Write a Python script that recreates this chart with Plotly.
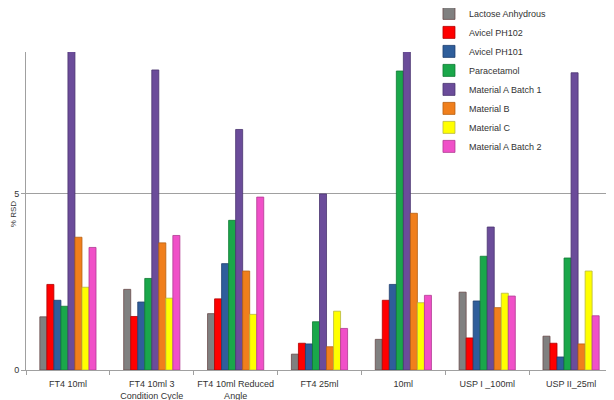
import plotly.graph_objects as go

categories = ["FT4 10ml", "FT4 10ml 3<br>Condition Cycle", "FT4 10ml Reduced<br>Angle",
              "FT4 25ml", "10ml", "USP I _100ml", "USP II_25ml"]

lactose = [1.51, 2.29, 1.60, 0.45, 0.87, 2.21, 0.96]
avicel102 = [2.43, 1.52, 2.02, 0.76, 1.98, 0.91, 0.76]
avicel101 = [1.98, 1.93, 3.02, 0.74, 2.43, 1.96, 0.37]
paracetamol = [1.81, 2.60, 4.25, 1.37, 8.49, 3.23, 3.18]
matA1 = [9.5, 8.52, 6.83, 5.00, 9.5, 4.06, 8.44]
matB = [3.77, 3.61, 2.81, 0.66, 4.45, 1.77, 0.74]
matC = [2.35, 2.04, 1.58, 1.67, 1.91, 2.18, 2.81]
matA2 = [3.48, 3.82, 4.91, 1.18, 2.12, 2.10, 1.54]

series = [
    ("Lactose Anhydrous", lactose, "#808080", "#6a4a4a"),
    ("Avicel PH102", avicel102, "#ff0000", "#b00000"),
    ("Avicel PH101", avicel101, "#2f5e9b", "#1f3f6f"),
    ("Paracetamol", paracetamol, "#1aa74a", "#0f7a33"),
    ("Material A Batch 1", matA1, "#6b4c9a", "#4a3570"),
    ("Material B", matB, "#f07f1c", "#b85f10"),
    ("Material C", matC, "#ffff00", "#b8b840"),
    ("Material A Batch 2", matA2, "#f050c8", "#b03a92"),
]

fig = go.Figure()
for i, (name, vals, col, lc) in enumerate(series):
    fig.add_trace(go.Bar(
        x=categories, y=vals, name=name,
        marker=dict(color=col, line=dict(color=lc, width=0.8)),
    ))

# page body has an 8px margin, so the figure is sized to fill the rest of the window
fig.update_layout(
    width=606, height=392,
    margin=dict(l=18, r=1, t=44, b=30, autoexpand=False),
    paper_bgcolor="white", plot_bgcolor="white",
    barmode="group", bargap=0.33, bargroupgap=0,
    font=dict(family="Liberation Sans", size=9, color="#333333"),
    legend=dict(x=0.6865, y=1.167, xanchor="left", yanchor="top",
                bgcolor="rgba(0,0,0,0)", font=dict(size=9, color="#333333"),
                tracegroupgap=0, itemwidth=30),
    showlegend=True,
    annotations=[dict(text="% RSD", xref="paper", yref="paper", x=0, y=0.49,
                      xanchor="center", yanchor="middle", xshift=-13,
                      textangle=-90, showarrow=False,
                      font=dict(size=8, color="#333333"))],
)
fig.update_xaxes(
    showline=True, linecolor="#a0a0a0", linewidth=1,
    ticks="outside", tickson="boundaries", ticklen=4, tickcolor="#a0a0a0",
    showgrid=False, tickangle=0, automargin=False, ticklabelstandoff=5,
    tickfont=dict(size=9, color="#333333"),
)
fig.update_yaxes(
    range=[0, 9.03], tickvals=[0, 5], ticktext=["0", "5"],
    showline=True, linecolor="#a0a0a0", linewidth=1,
    ticks="outside", ticklen=4, tickcolor="#a0a0a0",
    showgrid=True, gridcolor="#a0a0a0", gridwidth=1.2,
    zeroline=False, automargin=False,
    tickfont=dict(size=9, color="#333333"),
)

fig.write_html("out.html")
